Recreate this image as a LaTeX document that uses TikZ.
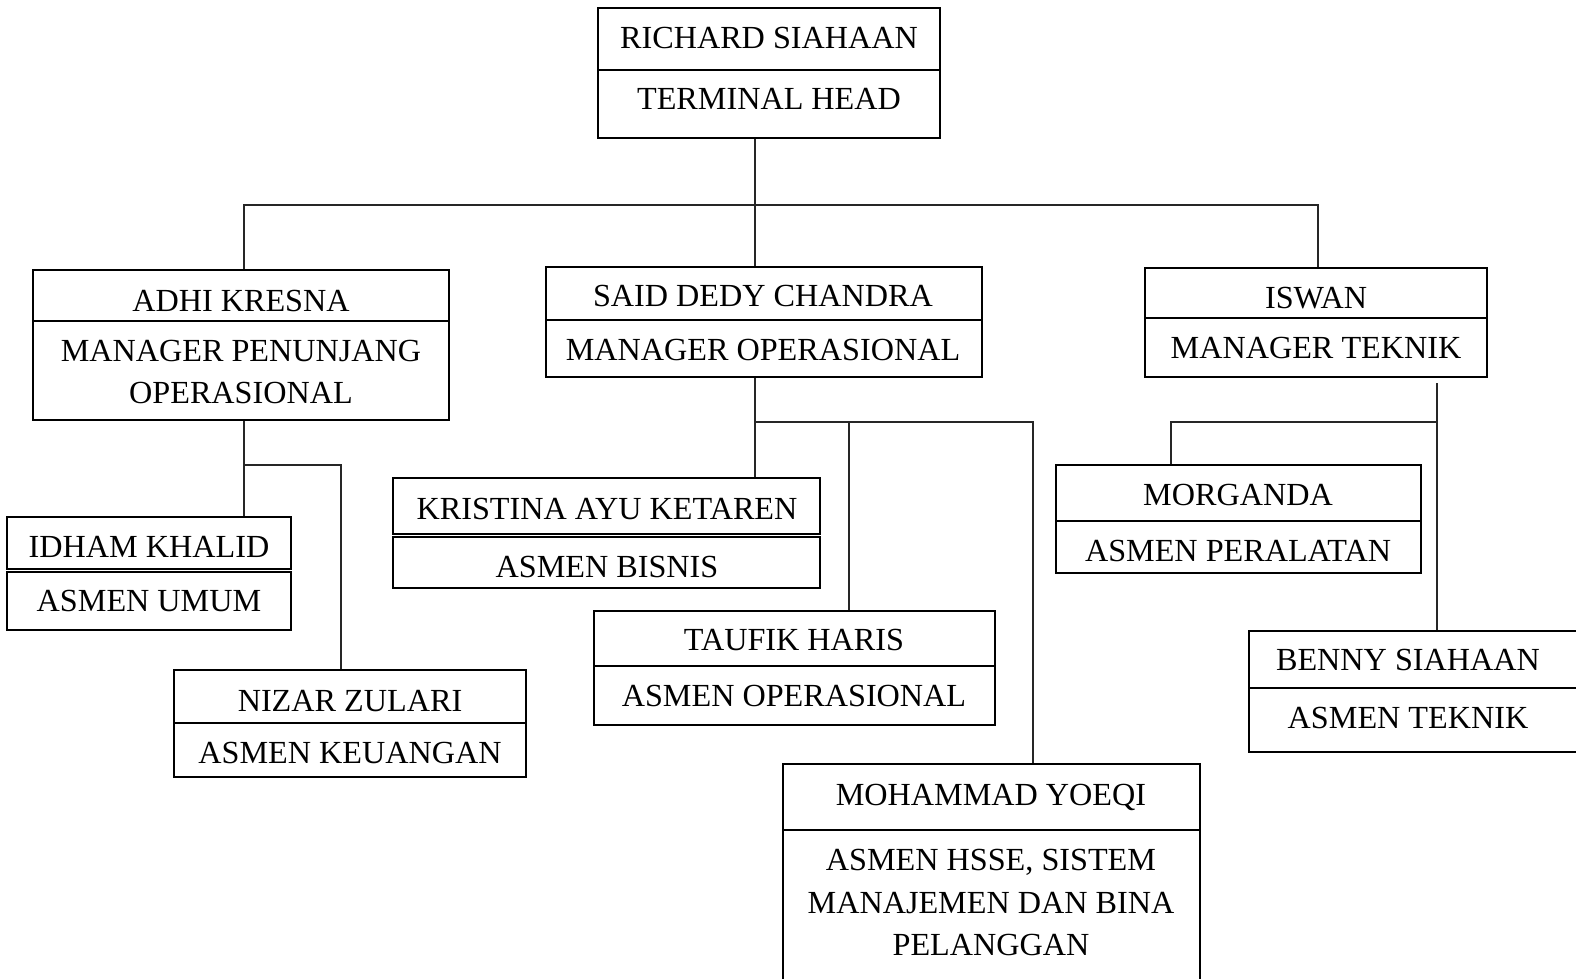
\documentclass[tikz,border=0pt]{standalone}
\usepackage{fontspec}
\setmainfont{Liberation Serif}
\usetikzlibrary{fit}
\tikzset{
  box/.style={draw=black, line width=1.9pt, inner sep=0pt},
  conn/.style={draw=black!85, line width=1.3pt},
  txt/.style={font=\fontsize{32.2}{42.5}\selectfont, text height=21.3pt, text depth=0pt, inner sep=0pt},
  mtxt/.style={font=\fontsize{32.2}{42.5}\selectfont, align=center, inner sep=0pt}
}
\begin{document}
\begin{tikzpicture}[x=1pt,y=-1pt]
\useasboundingbox (0,0) rectangle (1576,978);
\clip (0,0) rectangle (1576,978);
\fill[white] (0,0) rectangle (1576,978);

% top
\node[box, fit={(598,8) (940,70)}] (rsN) {};
\node[box, fit={(598,70) (940,138)}] (rsR) {};
\node[txt] (rsT1) at (769,38) {RICHARD SIAHAAN};
\node[txt] (rsT2) at (769,99) {TERMINAL HEAD};

% managers
\node[box, fit={(33,270) (449,321)}] (adhiN) {};
\node[box, fit={(33,321) (449,420)}] (adhiR) {};
\node[txt] (adhiT1) at (241,301) {ADHI KRESNA};
\node[mtxt] (adhiT2) at (241,372) {MANAGER PENUNJANG\\OPERASIONAL};

\node[box, fit={(546,267) (982,320)}] (saidN) {};
\node[box, fit={(546,320) (982,377)}] (saidR) {};
\node[txt] (saidT1) at (763,296) {SAID DEDY CHANDRA};
\node[txt] (saidT2) at (763,350) {MANAGER OPERASIONAL};

\node[box, fit={(1145,268) (1487,318)}] (iswanN) {};
\node[box, fit={(1145,318) (1487,377)}] (iswanR) {};
\node[txt] (iswanT1) at (1316,298) {ISWAN};
\node[txt] (iswanT2) at (1316,348) {MANAGER TEKNIK};

% asmen
\node[box, fit={(7,517) (291,569)}] (idhamN) {};
\node[box, fit={(7,572) (291,630)}] (idhamR) {};
\node[txt] (idhamT1) at (149,547) {IDHAM KHALID};
\node[txt] (idhamT2) at (149,601) {ASMEN UMUM};

\node[box, fit={(174,670) (526,723)}] (nizarN) {};
\node[box, fit={(174,723) (526,777)}] (nizarR) {};
\node[txt] (nizarT1) at (350,701) {NIZAR ZULARI};
\node[txt] (nizarT2) at (350,753) {ASMEN KEUANGAN};

\node[box, fit={(393,478) (820,534)}] (kristinaN) {};
\node[box, fit={(393,537) (820,588)}] (kristinaR) {};
\node[txt] (kristinaT1) at (607,509) {KRISTINA AYU KETAREN};
\node[txt] (kristinaT2) at (607,567) {ASMEN BISNIS};

\node[box, fit={(594,611) (995,666)}] (taufikN) {};
\node[box, fit={(594,666) (995,725)}] (taufikR) {};
\node[txt] (taufikT1) at (794,640) {TAUFIK HARIS};
\node[txt] (taufikT2) at (794,696) {ASMEN OPERASIONAL};

\node[box, fit={(783,764) (1200,830)}] (yoeqiN) {};
\node[box, fit={(783,830) (1200,1000)}] (yoeqiR) {};
\node[txt] (yoeqiT1) at (991,795) {MOHAMMAD YOEQI};
\node[mtxt] (yoeqiT2) at (991,902.5) {ASMEN HSSE, SISTEM\\MANAJEMEN DAN BINA\\PELANGGAN};

\node[box, fit={(1056,465) (1421,521)}] (morgandaN) {};
\node[box, fit={(1056,521) (1421,573)}] (morgandaR) {};
\node[txt] (morgandaT1) at (1238,495) {MORGANDA};
\node[txt] (morgandaT2) at (1238,551) {ASMEN PERALATAN};

\node[box, fit={(1249,631) (1610,688)}] (bennyN) {};
\node[box, fit={(1249,688) (1610,752)}] (bennyR) {};
\node[txt] (bennyT1) at (1408,660) {BENNY SIAHAAN};
\node[txt] (bennyT2) at (1408,718) {ASMEN TEKNIK};

% connectors
\coordinate (j0) at (755,205);
\coordinate (ja0) at (244,205);
\coordinate (jb0) at (1318,205);
\draw[conn] (rsR.south -| j0) -- (j0);
\draw[conn] (adhiN.north -| ja0) -- (ja0) -- (jb0) -- (iswanN.north -| jb0);
\draw[conn] (j0) -- (saidN.north -| j0);

\coordinate (ja) at (244,465);
\coordinate (jb) at (341,465);
\draw[conn] (adhiR.south -| ja) -- (idhamN.north -| ja);
\draw[conn] (ja) -- (jb) -- (nizarN.north -| jb);

\coordinate (js) at (755,422);
\coordinate (jt) at (849,422);
\coordinate (jy) at (1033,422);
\draw[conn] (saidR.south -| js) -- (kristinaN.north -| js);
\draw[conn] (js) -- (jy) -- (yoeqiN.north -| jy);
\draw[conn] (jt) -- (taufikN.north -| jt);

\coordinate (ji0) at (1437,383);
\coordinate (ji) at (1437,422);
\coordinate (jm) at (1171,422);
\draw[conn] (ji0) -- (bennyN.north -| ji0);
\draw[conn] (ji) -- (jm) -- (morgandaN.north -| jm);
\end{tikzpicture}
\end{document}
